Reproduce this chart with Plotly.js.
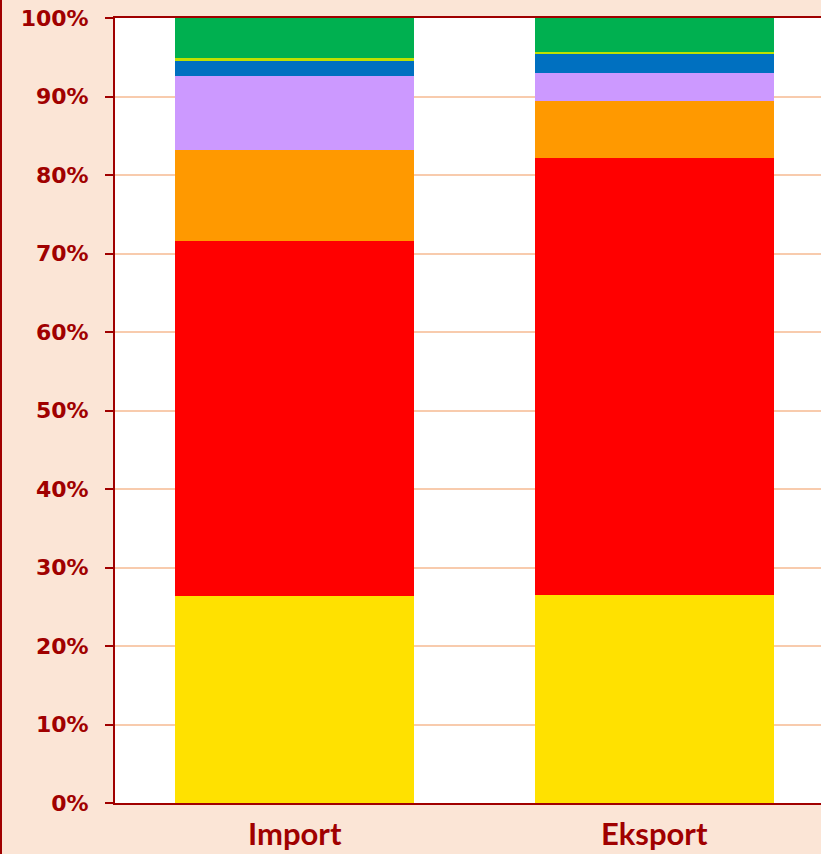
<!DOCTYPE html>
<html>
<head>
<meta charset="utf-8">
<script src="https://cdn.plot.ly/plotly-3.0.1.min.js"></script>
<style>html,body{margin:0;padding:0;background:#FBE5D6;}#chart{width:821px;height:854px;}</style>
</head>
<body>
<div id="chart"></div>
<script>
const categories = ["Import", "Eksport"];
const seriesNames = ["S1", "S2", "S3", "S4", "S5", "S6", "S7"];
const s1 = [26.4, 26.5];
const s2 = [45.2, 55.7];
const s3 = [11.6, 7.2];
const s4 = [9.4, 3.6];
const s5 = [1.95, 2.45];
const s6 = [0.35, 0.25];
const s7 = [5.1, 4.3];
const colors = ["#FFE100", "#FF0000", "#FF9900", "#CC99FF", "#0070C0", "#BFE000", "#00B050"];
const tickVals = [0, 10, 20, 30, 40, 50, 60, 70, 80, 90, 100];
const tickText = ["0%", "10%", "20%", "30%", "40%", "50%", "60%", "70%", "80%", "90%", "100%"];

const allSeries = [s1, s2, s3, s4, s5, s6, s7];
const dark = "#A00000";
const traces = allSeries.map((vals, i) => ({
  type: "bar",
  name: seriesNames[i],
  x: categories,
  y: vals,
  width: 0.665,
  marker: {color: colors[i], line: {width: 0}},
  hoverinfo: "y"
}));

const layout = {
  width: 821, height: 854,
  barmode: "stack",
  showlegend: false,
  paper_bgcolor: "#FBE5D6",
  plot_bgcolor: "#FFFFFF",
  margin: {l: 115, r: 0, t: 18, b: 51, pad: 0},
  font: {family: "Lato, 'Open Sans', sans-serif", color: dark},
  xaxis: {
    type: "category",
    range: [-0.5, 1.464],
    showline: true, linecolor: dark, linewidth: 2,
    mirror: true,
    ticks: "", showgrid: false,
    tickfont: {size: 31, color: dark, family: "Lato, sans-serif", weight: "bold"},
    ticklabelstandoff: 3,
    fixedrange: true
  },
  yaxis: {
    range: [0, 100],
    tickvals: tickVals, ticktext: tickText,
    showline: true, linecolor: dark, linewidth: 2,
    ticks: "outside", ticklen: 8, tickwidth: 2, tickcolor: dark,
    showgrid: true, gridcolor: "#F8CBAD", gridwidth: 2,
    zeroline: false,
    tickfont: {size: 22, color: dark, family: "'DejaVu Sans', sans-serif", weight: "bold"},
    ticklabelstandoff: 12,
    fixedrange: true
  },
  shapes: [{
    type: "line", xref: "paper", yref: "paper",
    x0: -114/706, x1: -114/706, y0: -51/785, y1: 1 + 18/785,
    line: {color: dark, width: 2}
  }]
};

Plotly.newPlot("chart", traces, layout, {displayModeBar: false, staticPlot: true});
</script>
</body>
</html>
